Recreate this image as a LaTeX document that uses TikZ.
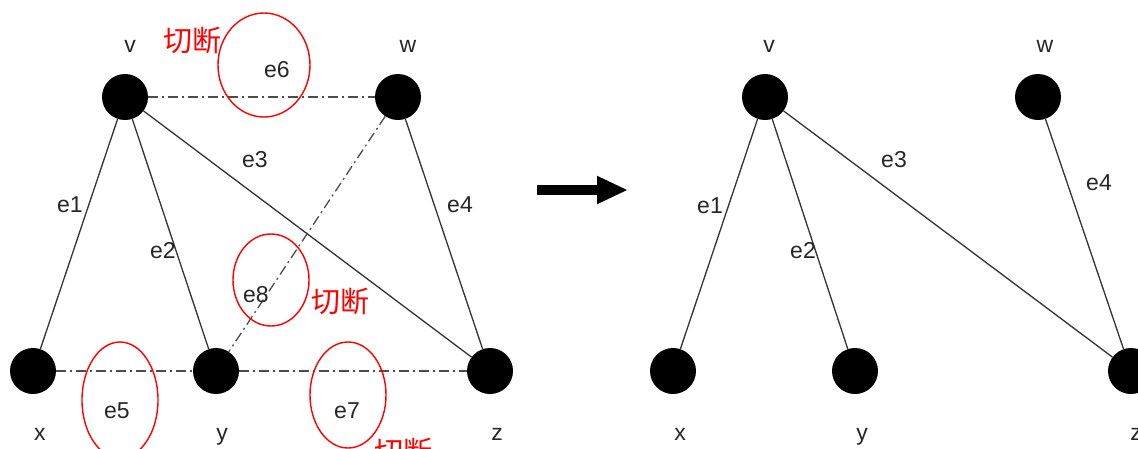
\documentclass[tikz,border=0pt]{standalone}
\usepackage{fontspec}
\setmainfont{Liberation Sans}
\newfontfamily\cjk{Noto Sans CJK SC}
\usetikzlibrary{arrows.meta}
\begin{document}
\begin{tikzpicture}[x=1pt,y=-1pt,
  vtx/.style={circle,fill=black,minimum size=46pt,inner sep=0pt},
  lbl/.style={font=\fontsize{23}{23}\selectfont,text=black!85,inner sep=0pt,anchor=base},
  solidedge/.style={draw=black!80,line width=1.3pt},
  cutedge/.style={draw=black!70,line width=1.3pt,dash pattern=on 10pt off 4pt on 2pt off 4pt},
  cutmark/.style={draw=red,line width=1.4pt},
  cuttext/.style={text=red,font=\cjk\fontsize{29}{29}\selectfont,inner sep=0pt}]
\path[use as bounding box] (0,0) rectangle (1138,448);
\clip (0,0) rectangle (1138,448);

% ---------- left graph ----------
\node[vtx] (v) at (125,97) {};
\node[vtx] (w) at (398,97) {};
\node[vtx] (x) at (33,371) {};
\node[vtx] (y) at (216,371) {};
\node[vtx] (z) at (490,371) {};

\draw[solidedge] (v) -- (x);
\draw[solidedge] (v) -- (y);
\draw[solidedge] (v) -- (z);
\draw[solidedge] (w) -- (z);
\draw[cutedge] (v) -- (w);
\draw[cutedge] (w) -- (y);
\draw[cutedge] (x) -- (y);
\draw[cutedge] (y) -- (z);

\node[lbl] (lv) at (130,52) {v};
\node[lbl] (lw) at (408,52) {w};
\node[lbl] (lx) at (40,440) {x};
\node[lbl] (ly) at (222,440) {y};
\node[lbl] (lz) at (497,440) {z};

\node[lbl] (e1) at (70,212) {e1};
\node[lbl] (e2) at (163,258) {e2};
\node[lbl] (e3) at (255,167) {e3};
\node[lbl] (e4) at (460,212) {e4};
\node[lbl] (e5) at (117,418) {e5};
\node[lbl] (e6) at (277,77) {e6};
\node[lbl] (e7) at (347,418) {e7};
\node[lbl] (e8) at (256,302) {e8};

\draw[cutmark] (264,65) ellipse [x radius=46pt, y radius=52pt];
\draw[cutmark] (271,280) ellipse [x radius=38pt, y radius=46pt];
\draw[cutmark] (120,400) ellipse [x radius=38pt, y radius=58pt];
\draw[cutmark] (348,395) ellipse [x radius=38pt, y radius=53pt];

\node[cuttext] (c1) at (192,41) {切断};
\node[cuttext] (c2) at (340,302) {切断};
\node[cuttext] (c3) at (403,452) {切断};

% ---------- arrow ----------
\coordinate (a1) at (537,190);
\coordinate (a2) at (628,190);
\draw[line width=10pt,-{Triangle[length=31pt,width=26pt]}] (a1) -- (a2);

% ---------- right graph ----------
\node[vtx] (rv) at (765,97) {};
\node[vtx] (rw) at (1038,97) {};
\node[vtx] (rx) at (673,371) {};
\node[vtx] (ry) at (855,371) {};
\node[vtx] (rz) at (1131,371) {};

\draw[solidedge] (rv) -- (rx);
\draw[solidedge] (rv) -- (ry);
\draw[solidedge] (rv) -- (rz);
\draw[solidedge] (rw) -- (rz);

\node[lbl] (rlv) at (769,52) {v};
\node[lbl] (rlw) at (1045,52) {w};
\node[lbl] (rlx) at (680,440) {x};
\node[lbl] (rly) at (862,440) {y};
\node[lbl] (rlz) at (1136,440) {z};

\node[lbl] (re1) at (710,213) {e1};
\node[lbl] (re2) at (803,258) {e2};
\node[lbl] (re3) at (894,167) {e3};
\node[lbl] (re4) at (1099,190) {e4};
\end{tikzpicture}
\end{document}
